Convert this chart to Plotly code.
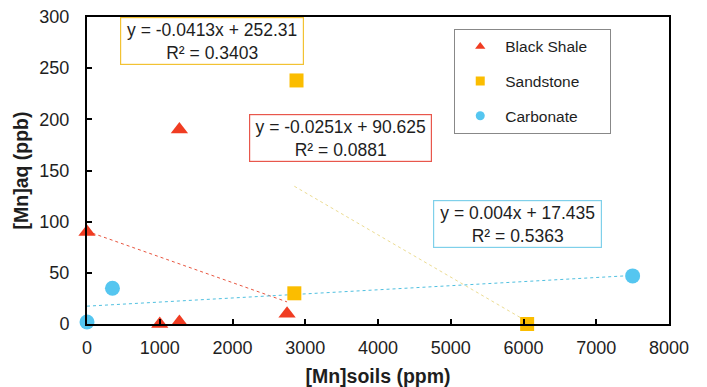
import plotly.graph_objects as go

# ---- data ----
shale_x = [0, 1000, 1270, 1270, 2750]
shale_y = [90, 0, 2, 190, 10]
sand_x = [2880, 2850, 6050]
sand_y = [238, 30, 0]
carb_x = [0, 350, 7500]
carb_y = [2, 35, 47]

# trendline coefficients (slope, intercept, R2) as printed on the chart
shale_fit = (-0.0251, 90.625, 0.0881)
sand_fit = (-0.0413, 252.31, 0.3403)
carb_fit = (0.004, 17.435, 0.5363)

x_ticks = [0, 1000, 2000, 3000, 4000, 5000, 6000, 7000, 8000]
y_ticks = [0, 50, 100, 150, 200, 250, 300]

RED = "#f03c22"
GOLD = "#fbbd00"
BLUE = "#55c6f0"
FONT = "Liberation Sans, Arial, sans-serif"
TXT = "#1e1e1e"

fig = go.Figure()


def trend(xs, fit, color):
    m, b, _ = fit
    x0, x1 = min(xs), max(xs)
    fig.add_trace(go.Scatter(x=[x0, x1], y=[m * x0 + b, m * x1 + b], mode="lines",
                             line=dict(color=color, width=1, dash="dot"),
                             showlegend=False, hoverinfo="skip", cliponaxis=False))


trend(shale_x, shale_fit, "#e8553f")
trend(sand_x, sand_fit, "#ecdc92")
trend(carb_x, carb_fit, "#4fc0e0")

fig.add_trace(go.Scatter(x=shale_x, y=shale_y, mode="markers", showlegend=False, cliponaxis=False,
                         marker=dict(symbol="triangle-up", size=15, color=RED)))
fig.add_trace(go.Scatter(x=sand_x, y=sand_y, mode="markers", showlegend=False, cliponaxis=False,
                         marker=dict(symbol="square", size=14, color=GOLD)))
fig.add_trace(go.Scatter(x=carb_x, y=carb_y, mode="markers", showlegend=False, cliponaxis=False,
                         marker=dict(symbol="circle", size=15, color=BLUE)))

# legend-only entries (smaller symbols)
for name, sym, col, grp in [("Black Shale\u00a0\u00a0\u00a0\u00a0", "triangle-up", RED, "a"),
                            ("Sandstone", "square", GOLD, "b"),
                            ("Carbonate", "circle", BLUE, "c")]:
    fig.add_trace(go.Scatter(x=[None], y=[None], mode="markers", name=name,
                             legendgroup=grp,
                             marker=dict(symbol=sym, size=9, color=col)))


def eq_text(fit):
    m, b, r2 = fit
    sign = "+" if b >= 0 else "-"
    return f"y = {m:g}x {sign} {abs(b):g}<br>R² = {r2:g}"


for fit, cx, cy, col, w in [(sand_fit, 1720, 276.6, "#f2c233", 180),
                            (shale_fit, 3480, 182, "#e8574c", 179),
                            (carb_fit, 5915, 97.8, "#7fd0ea", 165)]:
    fig.add_annotation(x=cx, y=cy, xref="x", yref="y", text=eq_text(fit),
                       showarrow=False, align="center", width=w, height=44,
                       bordercolor=col, borderwidth=1.2, borderpad=1,
                       bgcolor="white",
                       font=dict(family=FONT, size=17.5, color=TXT))

fig.update_layout(
    width=707, height=387,
    margin=dict(l=87, r=38, t=17, b=63),
    paper_bgcolor="white", plot_bgcolor="white",
    font=dict(family=FONT, color=TXT),
    legend=dict(x=0.631, y=0.9615, xanchor="left", yanchor="top",
                bordercolor="#888", borderwidth=1, bgcolor="white",
                font=dict(family=FONT, size=15.5, color=TXT),
                tracegroupgap=11.5, itemwidth=40),
    xaxis=dict(range=[0, 8000], tickvals=x_ticks, ticks="inside", ticklen=5,
               tickwidth=2, tickcolor="black", showgrid=False, zeroline=False,
               showline=True, linecolor="black", linewidth=2, mirror=True,
               ticklabelstandoff=6, automargin=False,
               tickfont=dict(size=18, family=FONT, color=TXT),
               title=dict(text="<b>[Mn]soils (ppm)</b>", font=dict(size=19.5, family=FONT, color=TXT),
                          standoff=14)),
    yaxis=dict(range=[0, 300], tickvals=y_ticks, ticks="inside", ticklen=5,
               tickwidth=2, tickcolor="black", showgrid=False, zeroline=False,
               showline=True, linecolor="black", linewidth=2, mirror=True,
               ticklabelstandoff=12, automargin=False,
               tickfont=dict(size=18, family=FONT, color=TXT),
               title=dict(text="<b>[Mn]aq (ppb)</b>", font=dict(size=19.5, family=FONT, color=TXT),
                          standoff=6)),
)

fig.write_html("out.html")
